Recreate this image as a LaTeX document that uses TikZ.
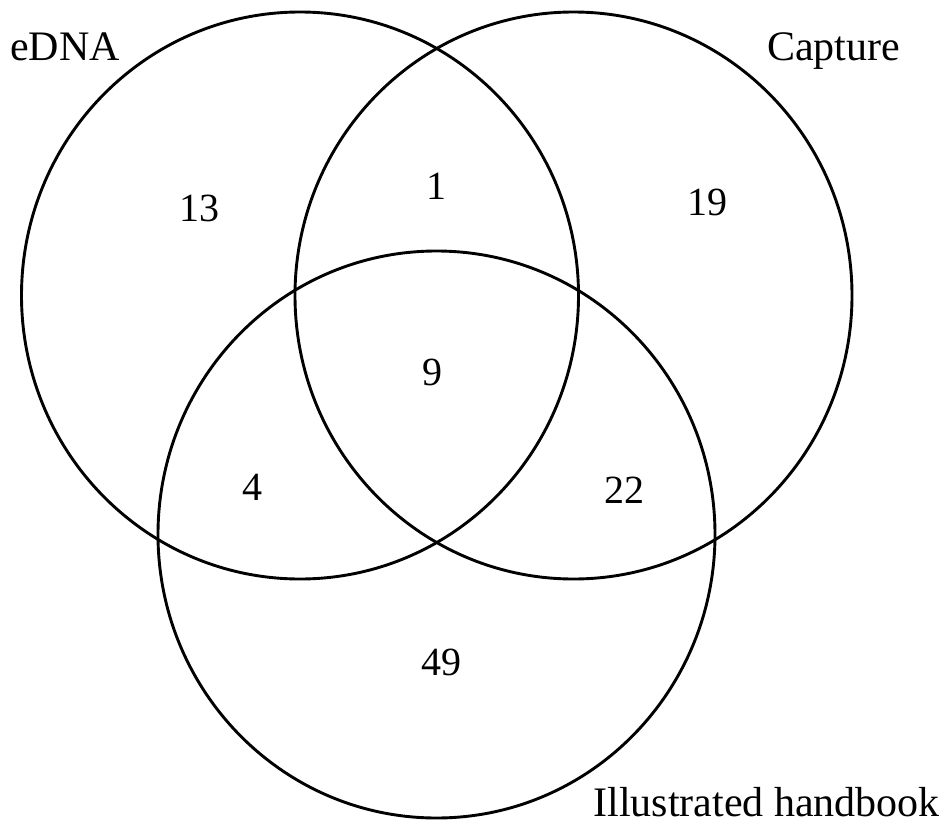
\documentclass[tikz,border=0pt]{standalone}
\usepackage{fontspec}
\setmainfont{Liberation Serif}
\begin{document}
\begin{tikzpicture}[x=1pt,y=-1pt,
  ring/.style={line width=2.9pt,black},
  setlabel/.style={font=\fontsize{42}{50}\selectfont,inner sep=0pt},
  count/.style={font=\fontsize{40}{48}\selectfont,inner sep=0pt}]
\useasboundingbox[fill=white] (0,0) rectangle (948,827);
\coordinate (cE) at (300,295.5);
\coordinate (cC) at (573.5,295.5);
\coordinate (cH) at (436.5,534.5);
\draw[ring] (cE) ellipse[x radius=278.5,y radius=283.5];
\draw[ring] (cC) ellipse[x radius=278.5,y radius=283.5];
\draw[ring] (cH) ellipse[x radius=278.5,y radius=283.5];
\node[setlabel,anchor=base west] (lE) at (10,60) {eDNA};
\node[setlabel,anchor=base west] (lC) at (767,60) {Capture};
\node[setlabel,anchor=base east] (lH) at (940,816) {Illustrated handbook};
\node[count] (n13) at (199,208) {13};
\node[count] (n1) at (436,186) {1};
\node[count] (n19) at (707,202) {19};
\node[count] (n9) at (432,372) {9};
\node[count] (n4) at (252,487) {4};
\node[count] (n22) at (624,490) {22};
\node[count] (n49) at (441,662) {49};
\end{tikzpicture}
\end{document}
